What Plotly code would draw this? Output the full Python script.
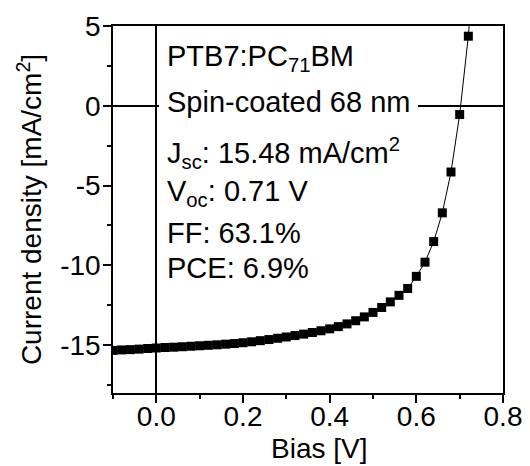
import plotly.graph_objects as go

# Bias (V)
bias = [-0.10, -0.08, -0.06, -0.04, -0.02, 0.00, 0.02, 0.04, 0.06, 0.08,
        0.10, 0.12, 0.14, 0.16, 0.18, 0.20, 0.22, 0.24, 0.26, 0.28,
        0.30, 0.32, 0.34, 0.36, 0.38, 0.40, 0.42, 0.44, 0.46, 0.48,
        0.50, 0.52, 0.54, 0.56, 0.58, 0.60, 0.62, 0.64, 0.66, 0.68,
        0.70, 0.72, 0.74]
# Current density (mA/cm^2)
current = [-15.33, -15.30, -15.28, -15.25, -15.21, -15.18, -15.15, -15.13, -15.10, -15.07,
           -15.04, -15.01, -14.98, -14.94, -14.90, -14.85, -14.79, -14.72, -14.65, -14.57,
           -14.49, -14.40, -14.31, -14.21, -14.10, -13.98, -13.84, -13.67, -13.47, -13.23,
           -12.95, -12.64, -12.29, -11.88, -11.45, -10.69, -9.80, -8.51, -6.71, -4.15,
           -0.55, 4.36, 11.5]

x_ticks = [0.0, 0.2, 0.4, 0.6, 0.8]
x_ticklabels = ["0.0", "0.2", "0.4", "0.6", "0.8"]
y_ticks = [-15, -10, -5, 0, 5]
y_ticklabels = ["-15", "-10", "-5", "0", "5"]

x_title = "Bias [V]"
y_title = "Current density [mA/cm<sup>2</sup>]"

info_lines = [
    "PTB7:PC<sub>71</sub>BM",
    "Spin-coated 68 nm",
    "J<sub>sc</sub>: 15.48 mA/cm<sup>2</sup>",
    "V<sub>oc</sub>: 0.71 V",
    "FF: 63.1%",
    "PCE: 6.9%",
]
info_y = [0.912, 0.794, 0.655, 0.545, 0.435, 0.340]

FONT = "Liberation Sans, Arial, sans-serif"

fig = go.Figure()
fig.add_trace(go.Scatter(
    x=bias, y=current, mode="lines+markers",
    line=dict(color="black", width=1),
    marker=dict(symbol="square", size=9, color="black", line=dict(width=0)),
    showlegend=False,
))

for i, (txt, yy) in enumerate(zip(info_lines, info_y)):
    if i == 1:
        kw = dict(bgcolor="white", borderpad=8, xshift=-8)
    else:
        kw = dict(borderpad=0)
    fig.add_annotation(
        x=0.1385, y=yy, xref="paper", yref="paper",
        xanchor="left", yanchor="middle", text=txt, showarrow=False,
        align="left", font=dict(family=FONT, size=29, color="black"),
        borderwidth=0, **kw,
    )

# x-axis title as an annotation (slightly right of centre, as in the reference)
fig.add_annotation(
    x=0.527, y=-0.152, xref="paper", yref="paper",
    xanchor="center", yanchor="middle", text=x_title, showarrow=False,
    font=dict(family=FONT, size=28, color="black"), borderpad=0, borderwidth=0,
)

axis_common = dict(
    showline=True, linecolor="black", linewidth=1.5, mirror=True,
    ticks="outside", ticklen=8, tickwidth=1.5, tickcolor="black",
    showgrid=False, zeroline=True, zerolinecolor="black", zerolinewidth=1.5,
    tickfont=dict(family=FONT, size=28, color="black"),
)

fig.update_xaxes(
    range=[-0.1, 0.8], tickvals=x_ticks, ticktext=x_ticklabels,
    minor=dict(dtick=0.1, tick0=0, ticks="outside", ticklen=4, tickwidth=1.5, tickcolor="black"),
    ticklabelstandoff=-10,
    **axis_common,
)
fig.update_yaxes(
    range=[-18, 5], tickvals=y_ticks, ticktext=y_ticklabels,
    minor=dict(dtick=2.5, tick0=0, ticks="outside", ticklen=4, tickwidth=1.5, tickcolor="black"),
    ticklabelstandoff=-3,
    title=dict(text=y_title, font=dict(family=FONT, size=28, color="black"), standoff=10),
    **axis_common,
)

# page body has an 8px default margin: compensate so the plot area lands in place
fig.update_layout(
    width=522, height=458,
    margin=dict(l=105, r=27, t=18, b=73, autoexpand=False),
    plot_bgcolor="white", paper_bgcolor="white",
)

fig.write_html("out.html")
